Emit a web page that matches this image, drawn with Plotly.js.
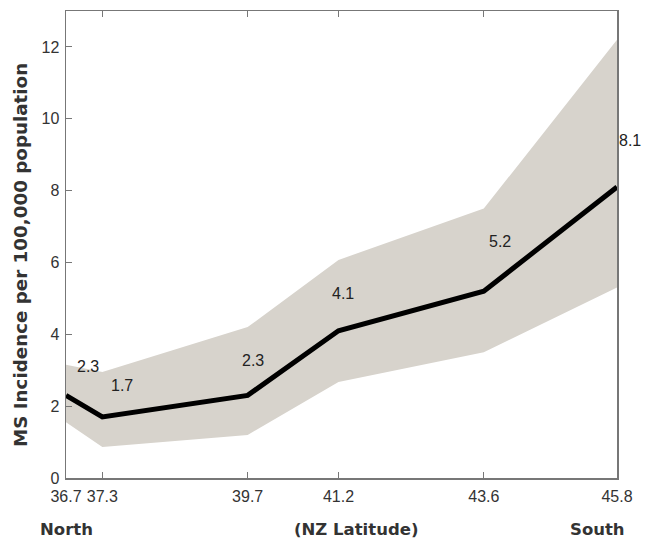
<!DOCTYPE html>
<html><head><meta charset="utf-8">
<script src="https://cdn.plot.ly/plotly-3.0.1.min.js"></script>
<style>body{margin:0;background:#fff}#c{width:645px;height:540px}</style>
</head><body><div id="c"></div>
<script>
const latitude = [36.7, 37.3, 39.7, 41.2, 43.6, 45.8];
const incidence = [2.3, 1.7, 2.3, 4.1, 5.2, 8.1];
const upperCI = [3.15, 2.95, 4.2, 6.07, 7.5, 12.2];
const lowerCI = [1.55, 0.86, 1.2, 2.67, 3.5, 5.3];
const tickLabels = ['36.7', '37.3', '39.7', '41.2', '43.6', '45.8'];
const valueLabels = ['2.3', '1.7', '2.3', '4.1', '5.2', '8.1'];
const labelShift = [[22, 29], [20, 31], [5, 35], [5, 37], [16, 50], [13, 47]];
const yTitle = 'MS Incidence per 100,000 population';

const traces = [
  {x: latitude, y: upperCI, mode: 'lines', line: {width: 0}, hoverinfo: 'skip', showlegend: false},
  {x: latitude, y: lowerCI, mode: 'lines', line: {width: 0}, fill: 'tonexty', fillcolor: '#d7d3cc', hoverinfo: 'skip', showlegend: false},
  {x: latitude, y: incidence, mode: 'lines', line: {color: '#000', width: 5}, showlegend: false}
];

const annotations = latitude.map((x, i) => ({
  x: x, y: incidence[i], xref: 'x', yref: 'y', text: valueLabels[i], showarrow: false,
  xshift: labelShift[i][0], yshift: labelShift[i][1],
  font: {family: 'Liberation Sans, Arial', size: 16, color: '#222'}
}));
const bold = {family: 'DejaVu Sans', size: 16.5, color: '#333', weight: 'bold'};
annotations.push(
  {xref: 'paper', yref: 'paper', x: -0.05, y: 0, yshift: -63, text: '<b>North</b>', showarrow: false, xanchor: 'left', font: bold},
  {xref: 'paper', yref: 'paper', x: 0.527, y: 0, yshift: -63, text: '<b>(NZ Latitude)</b>', showarrow: false, xanchor: 'center', font: bold},
  {xref: 'paper', yref: 'paper', x: 1.018, y: 0, yshift: -63, text: '<b>South</b>', showarrow: false, xanchor: 'right', font: bold},
  {xref: 'paper', yref: 'paper', x: -0.0835, y: 0.4775, text: '<b>' + yTitle + '</b>', showarrow: false,
    textangle: -90, xanchor: 'center', yanchor: 'middle',
    font: {family: 'DejaVu Sans', size: 18.3, color: '#333', weight: 'bold'}}
);

const tickFont = {family: 'Liberation Sans, Arial', size: 16, color: '#333'};
const layout = {
  width: 645, height: 540,
  margin: {l: 66, r: 28, t: 11, b: 62},
  paper_bgcolor: '#fff', plot_bgcolor: '#fff',
  xaxis: {range: [36.7, 45.8], tickvals: latitude, ticktext: tickLabels, ticks: 'inside', ticklen: 6,
    tickcolor: '#777', showline: true, linecolor: '#777', linewidth: 1.5, mirror: 'ticks', showgrid: false, zeroline: false,
    ticklabelstandoff: 3, tickfont: tickFont},
  yaxis: {range: [0, 13], tickvals: [0, 2, 4, 6, 8, 10, 12], ticks: 'inside', ticklen: 6, tickcolor: '#777',
    showline: true, linecolor: '#777', linewidth: 1.5, mirror: true, showgrid: false, zeroline: false,
    ticklabelstandoff: 2, tickfont: tickFont},
  annotations: annotations
};
Plotly.newPlot('c', traces, layout, {displayModeBar: false, staticPlot: true});
</script></body></html>
